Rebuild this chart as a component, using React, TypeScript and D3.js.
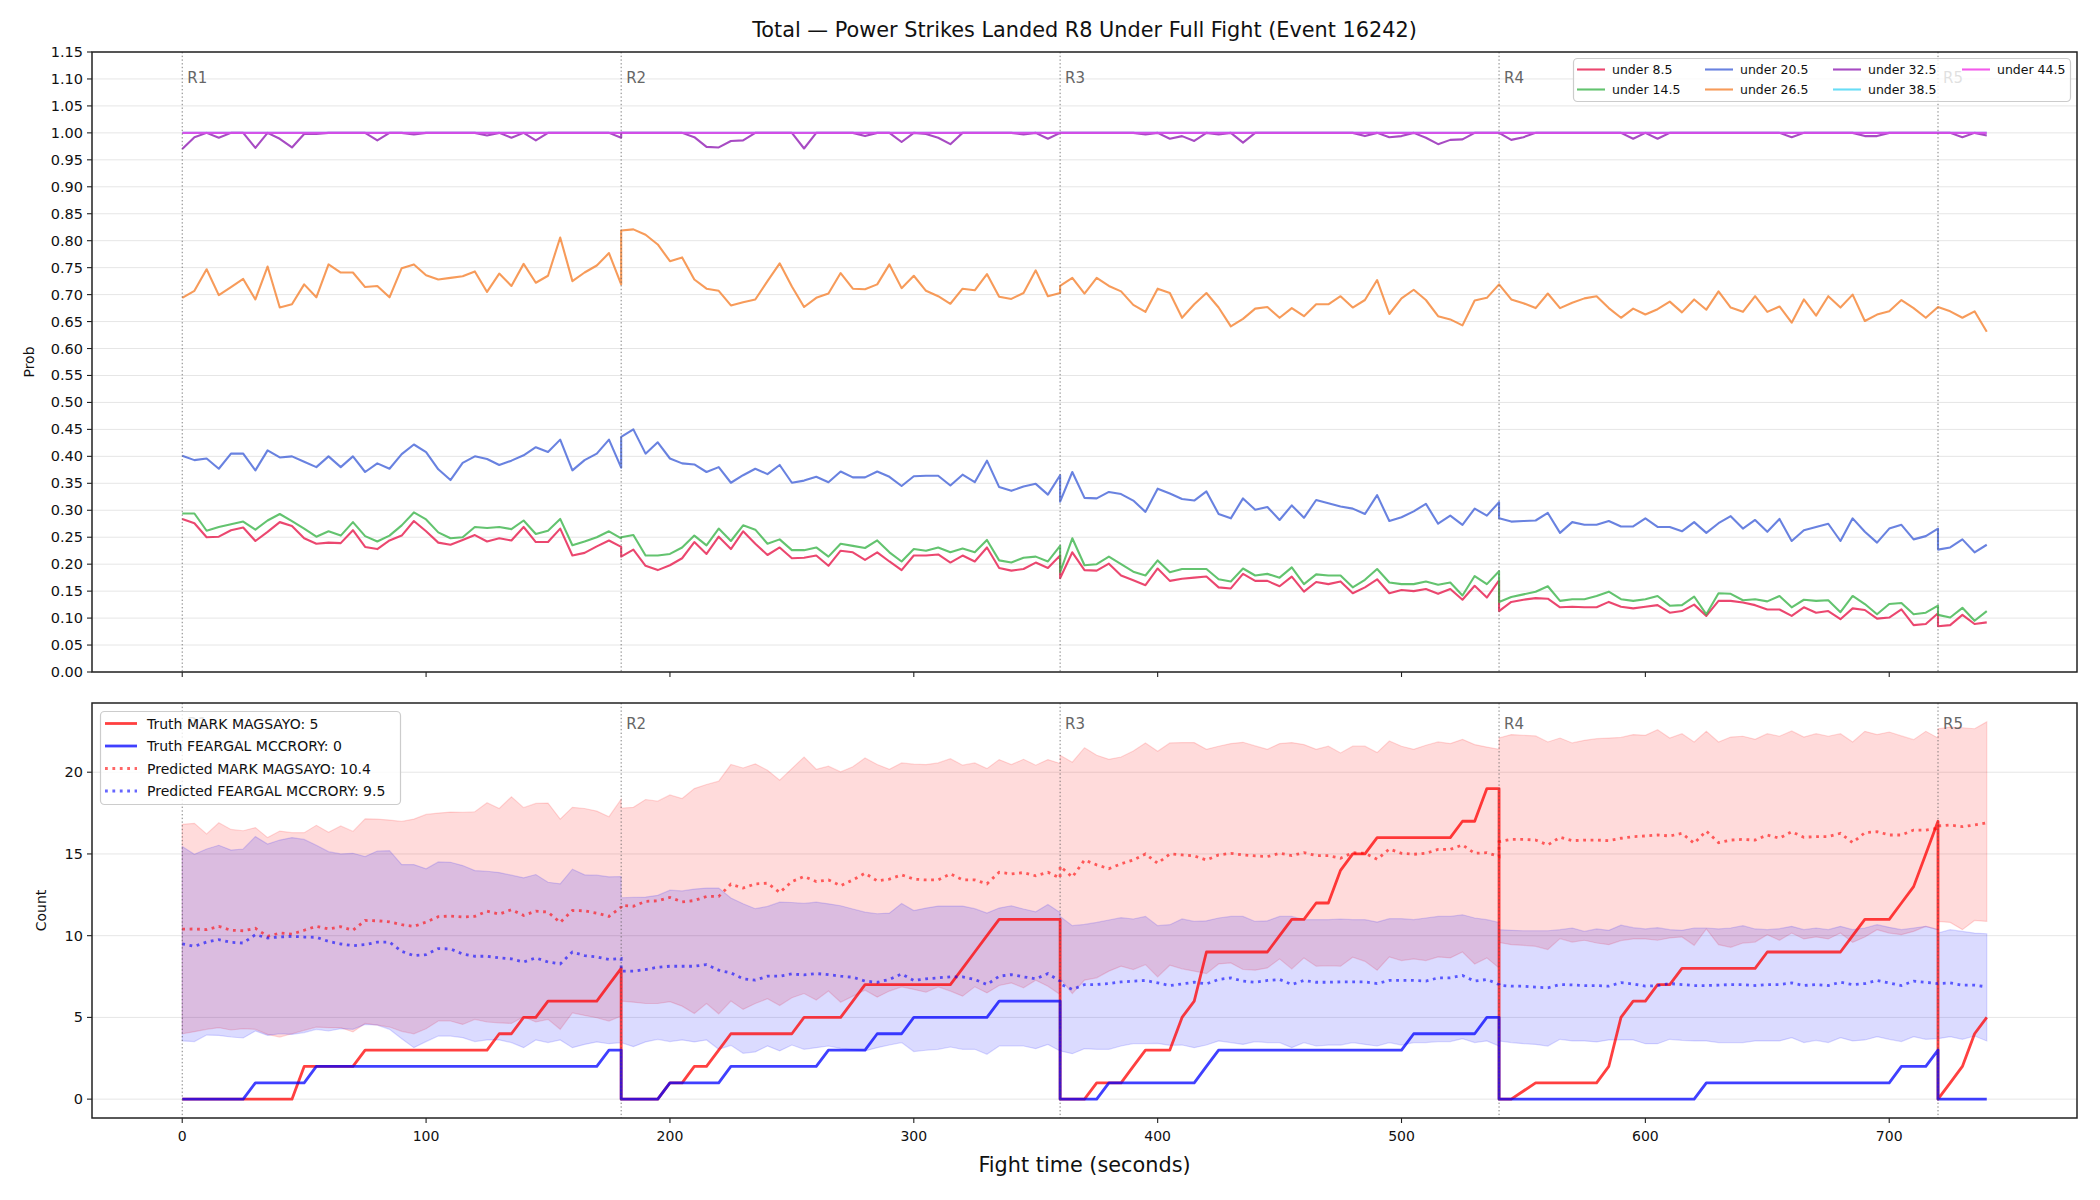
import React from 'react';
import * as d3 from 'd3';

type Pt = [number, number];
type BandPt = [number, number, number];

// sampling grid: each round restarts its clock, samples every 5 s
const ROUND_STARTS = [0, 180, 360, 540, 720];
const ROUND_LABELS = ['R1', 'R2', 'R3', 'R4', 'R5'];
const STEP_SECONDS = 5;

const PROB_TICKS = [0, 0.05, 0.1, 0.15, 0.2, 0.25, 0.3, 0.35, 0.4, 0.45, 0.5, 0.55, 0.6, 0.65, 0.7, 0.75, 0.8, 0.85, 0.9, 0.95, 1.0, 1.05, 1.1, 1.15];
const COUNT_TICKS = [0, 5, 10, 15, 20];
const TIME_TICKS = [0, 100, 200, 300, 400, 500, 600, 700];

const THRESHOLD_LABELS = ['under 8.5', 'under 14.5', 'under 20.5', 'under 26.5', 'under 32.5', 'under 38.5', 'under 44.5'];
const THRESHOLD_COLORS = ['#e6194b', '#3cb44b', '#4363d8', '#f58231', '#911eb4', '#42d4f4', '#f032e6'];

// P(total < line), one array per round
const UNDER_8_5 = [
  [0.284, 0.276, 0.250, 0.251, 0.263, 0.268, 0.243, 0.260, 0.278, 0.271, 0.248, 0.238, 0.240, 0.239, 0.263, 0.232, 0.228, 0.244, 0.253, 0.280, 0.261, 0.240, 0.236, 0.245, 0.254, 0.242, 0.248, 0.244, 0.269, 0.241, 0.241, 0.266, 0.216, 0.221, 0.233, 0.244, 0.232],
  [0.214, 0.227, 0.197, 0.189, 0.198, 0.211, 0.241, 0.219, 0.251, 0.228, 0.261, 0.238, 0.217, 0.231, 0.211, 0.212, 0.216, 0.197, 0.225, 0.222, 0.208, 0.222, 0.205, 0.189, 0.216, 0.216, 0.218, 0.203, 0.216, 0.205, 0.231, 0.193, 0.188, 0.191, 0.203, 0.193, 0.216],
  [0.174, 0.222, 0.189, 0.188, 0.201, 0.179, 0.170, 0.161, 0.192, 0.169, 0.173, 0.175, 0.177, 0.157, 0.155, 0.182, 0.169, 0.169, 0.159, 0.177, 0.149, 0.167, 0.163, 0.168, 0.146, 0.157, 0.172, 0.146, 0.152, 0.150, 0.154, 0.145, 0.154, 0.134, 0.160, 0.138, 0.170],
  [0.113, 0.130, 0.134, 0.137, 0.136, 0.120, 0.121, 0.120, 0.120, 0.130, 0.121, 0.118, 0.121, 0.124, 0.110, 0.113, 0.125, 0.104, 0.132, 0.132, 0.129, 0.124, 0.116, 0.116, 0.104, 0.120, 0.110, 0.113, 0.098, 0.118, 0.115, 0.099, 0.101, 0.116, 0.087, 0.089, 0.109],
  [0.085, 0.087, 0.106, 0.089, 0.092],
];
const UNDER_14_5 = [
  [0.294, 0.294, 0.262, 0.269, 0.274, 0.279, 0.264, 0.281, 0.293, 0.280, 0.266, 0.251, 0.261, 0.253, 0.278, 0.252, 0.242, 0.253, 0.272, 0.296, 0.283, 0.259, 0.248, 0.250, 0.269, 0.267, 0.269, 0.265, 0.281, 0.256, 0.262, 0.284, 0.235, 0.242, 0.250, 0.261, 0.248],
  [0.250, 0.254, 0.216, 0.216, 0.219, 0.231, 0.253, 0.235, 0.266, 0.243, 0.272, 0.264, 0.238, 0.246, 0.226, 0.226, 0.231, 0.214, 0.238, 0.234, 0.230, 0.244, 0.222, 0.205, 0.228, 0.225, 0.231, 0.222, 0.229, 0.222, 0.245, 0.207, 0.203, 0.212, 0.214, 0.205, 0.234],
  [0.185, 0.248, 0.198, 0.200, 0.214, 0.200, 0.186, 0.179, 0.207, 0.185, 0.191, 0.191, 0.191, 0.172, 0.168, 0.192, 0.179, 0.182, 0.175, 0.194, 0.163, 0.181, 0.179, 0.179, 0.157, 0.171, 0.191, 0.166, 0.163, 0.163, 0.168, 0.162, 0.166, 0.142, 0.178, 0.163, 0.187],
  [0.130, 0.139, 0.144, 0.149, 0.159, 0.132, 0.135, 0.135, 0.141, 0.149, 0.135, 0.132, 0.135, 0.141, 0.123, 0.124, 0.140, 0.107, 0.146, 0.145, 0.133, 0.135, 0.131, 0.141, 0.120, 0.134, 0.132, 0.133, 0.111, 0.141, 0.126, 0.107, 0.126, 0.128, 0.107, 0.110, 0.123],
  [0.106, 0.101, 0.119, 0.095, 0.113],
];
const UNDER_20_5 = [
  [0.401, 0.393, 0.396, 0.377, 0.405, 0.405, 0.374, 0.411, 0.398, 0.400, 0.390, 0.380, 0.400, 0.380, 0.400, 0.371, 0.387, 0.377, 0.404, 0.422, 0.408, 0.376, 0.356, 0.388, 0.400, 0.395, 0.384, 0.392, 0.402, 0.417, 0.408, 0.431, 0.374, 0.393, 0.405, 0.431, 0.379],
  [0.436, 0.450, 0.405, 0.426, 0.396, 0.387, 0.385, 0.371, 0.380, 0.351, 0.365, 0.377, 0.367, 0.384, 0.351, 0.355, 0.362, 0.352, 0.372, 0.361, 0.361, 0.372, 0.362, 0.345, 0.363, 0.364, 0.364, 0.346, 0.366, 0.352, 0.392, 0.343, 0.336, 0.344, 0.349, 0.329, 0.365],
  [0.316, 0.371, 0.323, 0.322, 0.334, 0.330, 0.318, 0.297, 0.340, 0.331, 0.321, 0.318, 0.335, 0.293, 0.285, 0.322, 0.301, 0.306, 0.282, 0.309, 0.286, 0.319, 0.313, 0.307, 0.303, 0.293, 0.328, 0.280, 0.287, 0.298, 0.312, 0.275, 0.290, 0.273, 0.303, 0.290, 0.315],
  [0.285, 0.279, 0.280, 0.281, 0.295, 0.258, 0.278, 0.273, 0.273, 0.280, 0.270, 0.270, 0.285, 0.269, 0.269, 0.261, 0.278, 0.258, 0.276, 0.289, 0.266, 0.282, 0.260, 0.284, 0.243, 0.263, 0.269, 0.275, 0.243, 0.285, 0.260, 0.240, 0.266, 0.273, 0.246, 0.252, 0.266],
  [0.227, 0.231, 0.246, 0.222, 0.236],
];
const UNDER_26_5 = [
  [0.694, 0.707, 0.747, 0.699, 0.714, 0.729, 0.691, 0.752, 0.676, 0.682, 0.719, 0.695, 0.756, 0.741, 0.741, 0.714, 0.716, 0.695, 0.749, 0.756, 0.736, 0.728, 0.731, 0.734, 0.743, 0.705, 0.739, 0.716, 0.757, 0.722, 0.735, 0.806, 0.725, 0.741, 0.754, 0.777, 0.719],
  [0.819, 0.821, 0.811, 0.793, 0.762, 0.769, 0.728, 0.711, 0.707, 0.680, 0.686, 0.691, 0.725, 0.758, 0.715, 0.677, 0.694, 0.702, 0.740, 0.711, 0.710, 0.719, 0.756, 0.712, 0.735, 0.707, 0.697, 0.683, 0.711, 0.708, 0.738, 0.696, 0.692, 0.703, 0.745, 0.697, 0.703],
  [0.716, 0.731, 0.702, 0.731, 0.716, 0.706, 0.681, 0.668, 0.711, 0.703, 0.657, 0.682, 0.703, 0.676, 0.641, 0.655, 0.674, 0.677, 0.657, 0.675, 0.660, 0.682, 0.682, 0.697, 0.676, 0.690, 0.727, 0.664, 0.693, 0.709, 0.690, 0.660, 0.654, 0.643, 0.689, 0.694, 0.719],
  [0.719, 0.691, 0.684, 0.675, 0.702, 0.675, 0.685, 0.693, 0.697, 0.675, 0.657, 0.674, 0.663, 0.673, 0.687, 0.667, 0.691, 0.672, 0.706, 0.676, 0.668, 0.697, 0.668, 0.678, 0.648, 0.691, 0.661, 0.697, 0.676, 0.700, 0.651, 0.663, 0.669, 0.690, 0.675, 0.657, 0.677],
  [0.677, 0.669, 0.657, 0.669, 0.631],
];
const UNDER_32_5 = [
  [0.970, 0.992, 1, 0.991, 1, 1, 0.972, 1, 0.989, 0.973, 0.998, 0.998, 1, 1, 1, 1, 0.986, 1, 1, 0.997, 1, 1, 1, 1, 1, 0.995, 1, 0.991, 1, 0.986, 1, 1, 1, 1, 1, 1, 0.991],
  [1, 1, 1, 1, 1, 1, 0.992, 0.974, 0.973, 0.985, 0.986, 1, 1, 1, 1, 0.971, 1, 1, 1, 1, 0.994, 1, 1, 0.983, 1, 0.998, 0.991, 0.979, 1, 1, 1, 1, 1, 0.997, 1, 0.989, 1],
  [1, 1, 1, 1, 1, 1, 1, 0.997, 1, 0.989, 0.994, 0.985, 1, 0.997, 1, 0.982, 1, 1, 1, 1, 1, 1, 1, 1, 1, 0.994, 1, 0.992, 0.994, 1, 0.991, 0.979, 0.987, 0.988, 1, 1, 1],
  [1, 0.987, 0.992, 1, 1, 1, 1, 1, 1, 1, 1, 0.989, 1, 0.989, 1, 1, 1, 1, 1, 1, 1, 1, 1, 1, 0.992, 1, 1, 1, 1, 1, 0.994, 0.994, 1, 1, 1, 1, 1],
  [1, 1, 0.992, 1, 0.995],
];
const UNDER_38_5 = [
  [1, 1, 1, 1, 1, 1, 1, 1, 1, 1, 1, 1, 1, 1, 1, 1, 1, 1, 1, 1, 1, 1, 1, 1, 1, 1, 1, 1, 1, 1, 1, 1, 1, 1, 1, 1, 1],
  [1, 1, 1, 1, 1, 1, 1, 1, 1, 1, 1, 1, 1, 1, 1, 1, 1, 1, 1, 1, 1, 1, 1, 1, 1, 1, 1, 1, 1, 1, 1, 1, 1, 1, 1, 1, 1],
  [1, 1, 1, 1, 1, 1, 1, 1, 1, 1, 1, 1, 1, 1, 1, 1, 1, 1, 1, 1, 1, 1, 1, 1, 1, 1, 1, 1, 1, 1, 1, 1, 1, 1, 1, 1, 1],
  [1, 1, 1, 1, 1, 1, 1, 1, 1, 1, 1, 1, 1, 1, 1, 1, 1, 1, 1, 1, 1, 1, 1, 1, 1, 1, 1, 1, 1, 1, 1, 1, 1, 1, 1, 1, 1],
  [1, 1, 1, 1, 1],
];
const UNDER_44_5 = [
  [1, 1, 1, 1, 1, 1, 1, 1, 1, 1, 1, 1, 1, 1, 1, 1, 1, 1, 1, 1, 1, 1, 1, 1, 1, 1, 1, 1, 1, 1, 1, 1, 1, 1, 1, 1, 1],
  [1, 1, 1, 1, 1, 1, 1, 1, 1, 1, 1, 1, 1, 1, 1, 1, 1, 1, 1, 1, 1, 1, 1, 1, 1, 1, 1, 1, 1, 1, 1, 1, 1, 1, 1, 1, 1],
  [1, 1, 1, 1, 1, 1, 1, 1, 1, 1, 1, 1, 1, 1, 1, 1, 1, 1, 1, 1, 1, 1, 1, 1, 1, 1, 1, 1, 1, 1, 1, 1, 1, 1, 1, 1, 1],
  [1, 1, 1, 1, 1, 1, 1, 1, 1, 1, 1, 1, 1, 1, 1, 1, 1, 1, 1, 1, 1, 1, 1, 1, 1, 1, 1, 1, 1, 1, 1, 1, 1, 1, 1, 1, 1],
  [1, 1, 1, 1, 1],
];
const THRESHOLD_SERIES = [UNDER_8_5, UNDER_14_5, UNDER_20_5, UNDER_26_5, UNDER_32_5, UNDER_38_5, UNDER_44_5];

// per-fighter counts: truth is cumulative within a round
const FIGHTERS = ['MARK MAGSAYO', 'FEARGAL MCCRORY'];

const TRUTH_MAGSAYO = [
  [0, 0, 0, 0, 0, 0, 0, 0, 0, 0, 2, 2, 2, 2, 2, 3, 3, 3, 3, 3, 3, 3, 3, 3, 3, 3, 4, 4, 5, 5, 6, 6, 6, 6, 6, 7, 8],
  [0, 0, 0, 0, 1, 1, 2, 2, 3, 4, 4, 4, 4, 4, 4, 5, 5, 5, 5, 6, 7, 7, 7, 7, 7, 7, 7, 7, 8, 9, 10, 11, 11, 11, 11, 11, 11],
  [0, 0, 0, 1, 1, 1, 2, 3, 3, 3, 5, 6, 9, 9, 9, 9, 9, 9, 10, 11, 11, 12, 12, 14, 15, 15, 16, 16, 16, 16, 16, 16, 16, 17, 17, 19, 19],
  [0, 0, 0.5, 1, 1, 1, 1, 1, 1, 2, 5, 6, 6, 7, 7, 8, 8, 8, 8, 8, 8, 8, 9, 9, 9, 9, 9, 9, 9, 10, 11, 11, 11, 12, 13, 15, 17],
  [0, 1, 2, 4, 5],
];
const TRUTH_FEARGAL = [
  [0, 0, 0, 0, 0, 0, 1, 1, 1, 1, 1, 2, 2, 2, 2, 2, 2, 2, 2, 2, 2, 2, 2, 2, 2, 2, 2, 2, 2, 2, 2, 2, 2, 2, 2, 3, 3],
  [0, 0, 0, 0, 1, 1, 1, 1, 1, 2, 2, 2, 2, 2, 2, 2, 2, 3, 3, 3, 3, 4, 4, 4, 5, 5, 5, 5, 5, 5, 5, 6, 6, 6, 6, 6, 6],
  [0, 0, 0, 0, 1, 1, 1, 1, 1, 1, 1, 1, 2, 3, 3, 3, 3, 3, 3, 3, 3, 3, 3, 3, 3, 3, 3, 3, 3, 4, 4, 4, 4, 4, 4, 5, 5],
  [0, 0, 0, 0, 0, 0, 0, 0, 0, 0, 0, 0, 0, 0, 0, 0, 0, 1, 1, 1, 1, 1, 1, 1, 1, 1, 1, 1, 1, 1, 1, 1, 1, 2, 2, 2, 3],
  [0, 0, 0, 0, 0],
];

const PRED_MAGSAYO = [
  [10.4, 10.41, 10.37, 10.57, 10.33, 10.30, 10.45, 9.96, 10.16, 10.10, 10.33, 10.57, 10.41, 10.55, 10.33, 10.93, 10.91, 10.85, 10.67, 10.57, 10.83, 11.16, 11.20, 11.14, 11.18, 11.50, 11.32, 11.59, 11.24, 11.50, 11.44, 10.81, 11.54, 11.52, 11.38, 11.18, 11.75],
  [11.85, 11.80, 12.10, 12.13, 12.34, 12.07, 12.15, 12.40, 12.40, 13.15, 12.91, 13.17, 13.21, 12.64, 13.31, 13.62, 13.31, 13.41, 13.05, 13.41, 13.82, 13.35, 13.46, 13.72, 13.46, 13.41, 13.41, 13.78, 13.41, 13.41, 13.17, 13.88, 13.78, 13.86, 13.66, 13.88, 13.52],
  [14.25, 13.58, 14.63, 14.33, 14.10, 14.40, 14.63, 15.00, 14.43, 15.00, 14.94, 14.88, 14.63, 14.94, 15.04, 14.94, 14.88, 14.84, 15.04, 14.90, 15.08, 14.90, 14.90, 14.74, 15.08, 15.04, 14.67, 15.30, 15.04, 14.98, 15.04, 15.28, 15.28, 15.55, 15.04, 15.08, 14.84],
  [15.75, 15.89, 15.89, 15.85, 15.55, 16.02, 15.81, 15.85, 15.85, 15.81, 15.96, 16.06, 16.10, 16.16, 16.10, 16.26, 15.65, 16.40, 15.69, 15.85, 15.89, 15.85, 16.16, 15.96, 16.36, 16.02, 16.06, 16.06, 16.26, 15.69, 16.30, 16.36, 16.16, 16.16, 16.46, 16.46, 16.57],
  [16.71, 16.77, 16.67, 16.77, 16.91],
];
const UPPER_MAGSAYO = [
  [16.81, 16.87, 16.22, 16.91, 16.50, 16.42, 16.61, 16.00, 16.40, 16.30, 16.30, 16.75, 16.32, 16.71, 16.38, 17.15, 17.13, 17.07, 16.99, 17.13, 17.42, 17.50, 17.56, 17.54, 17.58, 18.13, 17.78, 18.50, 17.83, 18.09, 18.11, 17.13, 17.85, 17.78, 17.62, 17.28, 18.35],
  [17.80, 17.85, 18.33, 18.23, 18.61, 18.39, 19.00, 19.25, 19.45, 20.47, 20.26, 20.51, 20.12, 19.51, 20.22, 20.93, 20.18, 20.37, 20.02, 20.33, 20.87, 20.47, 20.18, 20.57, 20.49, 20.47, 20.57, 20.83, 20.43, 20.57, 20.22, 20.77, 20.47, 20.79, 20.43, 20.77, 20.53],
  [21.04, 20.61, 21.50, 21.04, 20.79, 20.93, 21.30, 21.79, 21.28, 21.79, 21.81, 21.81, 21.40, 21.59, 21.75, 21.83, 21.61, 21.40, 21.75, 21.81, 21.69, 21.40, 21.59, 21.18, 21.59, 21.59, 21.20, 21.91, 21.59, 21.40, 21.65, 21.85, 21.75, 22.01, 21.69, 21.54, 21.40],
  [22.09, 22.30, 22.26, 22.22, 21.85, 22.09, 21.79, 21.95, 22.05, 22.09, 22.13, 22.30, 22.26, 22.60, 22.09, 22.36, 21.85, 22.50, 21.85, 22.15, 22.20, 22.01, 22.36, 22.20, 22.52, 22.15, 22.36, 22.20, 22.36, 21.85, 22.50, 22.30, 22.46, 22.22, 21.99, 22.50, 22.09],
  [22.66, 22.76, 22.72, 22.66, 23.08],
];
const LOWER_MAGSAYO = [
  [4.00, 4.13, 4.27, 4.37, 4.23, 4.31, 4.27, 3.96, 3.80, 4.00, 4.21, 4.41, 4.37, 4.37, 4.11, 4.63, 4.53, 4.41, 4.15, 4.00, 4.31, 4.78, 4.78, 4.57, 4.88, 4.72, 4.67, 4.63, 5.04, 4.72, 4.88, 4.27, 5.28, 5.12, 4.98, 4.78, 5.08],
  [6.00, 5.93, 5.85, 5.85, 5.96, 5.69, 5.24, 5.85, 5.22, 6.00, 5.49, 5.85, 6.14, 5.73, 6.20, 6.46, 6.06, 6.61, 5.93, 6.30, 6.67, 6.24, 6.61, 6.87, 6.71, 6.54, 6.87, 6.61, 6.30, 6.87, 6.50, 6.95, 7.11, 6.81, 7.28, 6.91, 6.40],
  [7.40, 6.46, 7.28, 7.42, 7.83, 8.13, 7.93, 8.23, 7.48, 8.19, 7.97, 7.83, 7.68, 8.27, 8.33, 7.93, 7.89, 8.03, 8.58, 7.97, 8.64, 8.13, 8.17, 8.13, 8.68, 8.43, 7.89, 8.70, 8.48, 8.58, 8.48, 8.70, 8.64, 9.00, 8.27, 8.64, 8.03],
  [9.59, 9.45, 9.41, 9.35, 9.15, 9.82, 9.61, 9.72, 9.55, 9.45, 9.70, 9.80, 9.80, 9.72, 9.86, 9.92, 9.41, 10.41, 9.45, 9.29, 9.55, 9.61, 10.06, 9.72, 10.16, 9.80, 9.92, 9.80, 10.16, 9.59, 9.92, 10.37, 10.16, 10.06, 10.26, 10.57, 10.37],
  [10.87, 10.81, 10.37, 10.93, 10.87],
];
const PRED_FEARGAL = [
  [9.5, 9.35, 9.61, 9.76, 9.59, 9.55, 10.06, 9.86, 9.92, 9.96, 9.92, 9.90, 9.65, 9.49, 9.39, 9.45, 9.61, 9.61, 9.04, 8.78, 8.84, 9.21, 9.19, 8.88, 8.74, 8.74, 8.64, 8.58, 8.39, 8.64, 8.39, 8.27, 9.00, 8.78, 8.70, 8.54, 8.60],
  [7.83, 7.83, 7.93, 8.07, 8.13, 8.13, 8.13, 8.23, 7.89, 7.72, 7.36, 7.28, 7.52, 7.52, 7.66, 7.60, 7.68, 7.62, 7.52, 7.46, 7.22, 7.15, 7.32, 7.66, 7.26, 7.36, 7.42, 7.48, 7.48, 7.32, 7.01, 7.52, 7.62, 7.48, 7.36, 7.68, 7.22],
  [7.05, 6.71, 7.01, 7.01, 7.07, 7.17, 7.22, 7.26, 7.11, 6.95, 7.05, 7.15, 7.05, 7.32, 7.42, 7.22, 7.15, 7.26, 7.32, 7.01, 7.26, 7.15, 7.15, 7.17, 7.17, 7.17, 7.07, 7.26, 7.26, 7.26, 7.22, 7.42, 7.42, 7.56, 7.22, 7.32, 7.01],
  [6.97, 6.91, 6.91, 6.85, 6.81, 7.01, 6.99, 6.95, 6.95, 6.91, 7.13, 7.04, 6.91, 6.95, 7.07, 7.01, 6.95, 6.95, 6.97, 7.01, 7.01, 6.95, 7.01, 7.01, 7.11, 6.95, 7.01, 6.95, 7.15, 7.01, 7.07, 7.26, 7.11, 6.95, 7.22, 7.15, 7.07],
  [7.07, 7.11, 6.97, 6.97, 6.87],
];
const UPPER_FEARGAL = [
  [15.45, 14.98, 15.30, 15.53, 15.24, 15.30, 16.06, 15.61, 15.85, 16.00, 15.89, 15.53, 15.14, 15.00, 15.04, 14.84, 15.18, 15.20, 14.35, 14.35, 14.09, 14.51, 14.49, 14.29, 13.98, 13.94, 13.86, 13.70, 13.54, 13.74, 13.27, 13.17, 14.07, 13.72, 13.70, 13.60, 13.62],
  [12.32, 12.34, 12.36, 12.47, 12.78, 12.74, 12.85, 12.91, 12.91, 12.30, 11.95, 11.65, 11.79, 12.05, 12.03, 11.97, 12.05, 11.95, 11.83, 11.63, 11.44, 11.34, 11.38, 11.97, 11.54, 11.69, 11.81, 11.81, 11.81, 11.65, 11.38, 11.69, 11.83, 11.63, 11.46, 11.91, 11.42],
  [11.18, 10.61, 10.69, 10.81, 10.96, 11.10, 11.02, 11.18, 10.61, 10.67, 11.02, 10.87, 10.91, 11.08, 11.18, 11.18, 10.87, 10.91, 11.18, 11.18, 10.98, 10.98, 10.98, 11.02, 10.98, 10.98, 10.83, 11.04, 11.04, 10.98, 11.08, 11.18, 11.18, 11.28, 11.08, 10.98, 10.81],
  [10.37, 10.33, 10.30, 10.30, 10.30, 10.37, 10.47, 10.26, 10.41, 10.33, 10.64, 10.49, 10.41, 10.49, 10.37, 10.33, 10.47, 10.47, 10.41, 10.47, 10.61, 10.41, 10.37, 10.43, 10.57, 10.37, 10.47, 10.37, 10.57, 10.37, 10.47, 10.67, 10.51, 10.37, 10.47, 10.57, 10.37],
  [10.16, 10.37, 10.26, 10.16, 10.12],
];
const LOWER_FEARGAL = [
  [3.56, 3.52, 3.92, 3.90, 3.80, 3.74, 4.17, 3.90, 4.00, 3.96, 4.07, 4.27, 4.17, 4.31, 4.27, 4.57, 4.53, 4.27, 3.70, 3.15, 3.52, 3.86, 3.86, 3.76, 3.52, 3.62, 3.62, 3.46, 3.15, 3.62, 3.46, 3.62, 3.15, 3.35, 3.50, 3.39, 3.46],
  [3.46, 3.21, 3.50, 3.66, 3.52, 3.62, 3.50, 3.62, 3.05, 3.29, 2.80, 2.89, 3.25, 2.95, 3.31, 3.05, 3.15, 3.25, 3.11, 3.01, 2.95, 3.15, 3.31, 3.46, 2.91, 2.99, 3.05, 3.19, 3.05, 3.05, 2.74, 3.25, 3.25, 3.25, 3.09, 3.35, 2.95],
  [2.95, 2.78, 3.09, 3.05, 3.05, 3.25, 3.40, 3.40, 3.41, 3.29, 3.31, 3.15, 3.31, 3.56, 3.46, 3.35, 3.52, 3.46, 3.46, 3.15, 3.46, 3.25, 3.31, 3.31, 3.46, 3.35, 3.25, 3.46, 3.31, 3.46, 3.46, 3.52, 3.52, 3.70, 3.46, 3.56, 3.25],
  [3.56, 3.46, 3.39, 3.35, 3.25, 3.66, 3.56, 3.56, 3.50, 3.62, 3.64, 3.62, 3.39, 3.39, 3.66, 3.60, 3.56, 3.56, 3.46, 3.46, 3.46, 3.56, 3.56, 3.56, 3.76, 3.46, 3.60, 3.46, 3.76, 3.56, 3.62, 3.82, 3.66, 3.52, 3.82, 3.66, 3.70],
  [3.70, 3.82, 3.66, 3.86, 3.56],
];

const FONT = '"DejaVu Sans", "Liberation Sans", sans-serif';
const AXIS_L = 92;
const AXIS_R = 2077;
const TOP_Y = [52, 672];
const BOT_Y = [703, 1118];

function toPoints(rounds: number[][]): Pt[] {
  return rounds.flatMap((vals, r) => vals.map((v, i) => [ROUND_STARTS[r] + i * STEP_SECONDS, v] as Pt));
}

function toBand(lower: number[][], upper: number[][]): BandPt[] {
  const lo = toPoints(lower);
  const hi = toPoints(upper);
  return lo.map((d, i) => [d[0], d[1], hi[i][1]] as BandPt);
}

export default function App() {
  const threshPts = THRESHOLD_SERIES.map(toPoints);
  const truthM = toPoints(TRUTH_MAGSAYO);
  const truthF = toPoints(TRUTH_FEARGAL);
  const predM = toPoints(PRED_MAGSAYO);
  const predF = toPoints(PRED_FEARGAL);
  const bandM = toBand(LOWER_MAGSAYO, UPPER_MAGSAYO);
  const bandF = toBand(LOWER_FEARGAL, UPPER_FEARGAL);

  // matplotlib-style 5% margins around the data extent
  const tExt = d3.extent(truthM, d => d[0]) as [number, number];
  const tPad = (tExt[1] - tExt[0]) * 0.05;
  const x = d3.scaleLinear().domain([tExt[0] - tPad, tExt[1] + tPad]).range([AXIS_L, AXIS_R]);

  const yP = d3.scaleLinear().domain([0, 1.15]).range([TOP_Y[1], TOP_Y[0]]);

  const cVals = [...bandM.flatMap(d => [d[1], d[2]]), ...bandF.flatMap(d => [d[1], d[2]]), ...truthM.map(d => d[1]), ...truthF.map(d => d[1])];
  const cMin = d3.min(cVals)!;
  const cMax = d3.max(cVals)!;
  const cPad = (cMax - cMin) * 0.05;
  const yC = d3.scaleLinear().domain([cMin - cPad, cMax + cPad]).range([BOT_Y[1], BOT_Y[0]]);

  const lineP = d3.line<Pt>().x(d => x(d[0])).y(d => yP(d[1]));
  const lineC = d3.line<Pt>().x(d => x(d[0])).y(d => yC(d[1]));
  const areaC = d3.area<BandPt>().x(d => x(d[0])).y0(d => yC(d[1])).y1(d => yC(d[2]));

  const fmt2 = d3.format('.2f');

  const roundLines = (y0: number, y1: number) =>
    ROUND_STARTS.map(t => (
      <line key={t} x1={x(t)} x2={x(t)} y1={y0} y2={y1} stroke="#555" strokeOpacity={0.75} strokeWidth={1} strokeDasharray="1.4 2.3" />
    ));

  const roundText = (yPos: number) =>
    ROUND_STARTS.map((t, i) => (
      <text key={t} x={x(t) + 5} y={yPos} dominantBaseline="central" fontSize={15} fill="#666" fontFamily={FONT}>
        {ROUND_LABELS[i]}
      </text>
    ));

  const xTicks = (yBase: number, labels: boolean) =>
    TIME_TICKS.map(t => (
      <g key={t}>
        <line x1={x(t)} x2={x(t)} y1={yBase} y2={yBase + 5} stroke="#222" strokeWidth={1.1} />
        {labels && (
          <text x={x(t)} y={yBase + 23} textAnchor="middle" fontSize={14} fill="#111" fontFamily={FONT}>{t}</text>
        )}
      </g>
    ));

  // top legend: 4 columns, filled column-wise
  const legTopX = [1577, 1705, 1833, 1962];
  const legTopY = [69.5, 89.5];

  const botLegend = [
    { label: `Truth ${FIGHTERS[0]}: ${TRUTH_MAGSAYO[4][4]}`, color: '#ff0000', dash: undefined, op: 0.75 },
    { label: `Truth ${FIGHTERS[1]}: ${TRUTH_FEARGAL[4][4]}`, color: '#0000ff', dash: undefined, op: 0.75 },
    { label: `Predicted ${FIGHTERS[0]}: ${PRED_MAGSAYO[0][0].toFixed(1)}`, color: '#ff0000', dash: '2.8 4.6', op: 0.6 },
    { label: `Predicted ${FIGHTERS[1]}: ${PRED_FEARGAL[0][0].toFixed(1)}`, color: '#0000ff', dash: '2.8 4.6', op: 0.6 },
  ];
  const legBotY = [723.5, 746, 768.5, 791];

  return (
    <div style={{ position: 'absolute', left: 0, top: 0 }}>
      <svg width={2100} height={1200} viewBox="0 0 2100 1200" style={{ display: 'block', background: '#fff' }}>
        <defs>
          <clipPath id="clipTop"><rect x={AXIS_L} y={TOP_Y[0]} width={AXIS_R - AXIS_L} height={TOP_Y[1] - TOP_Y[0]} /></clipPath>
          <clipPath id="clipBot"><rect x={AXIS_L} y={BOT_Y[0]} width={AXIS_R - AXIS_L} height={BOT_Y[1] - BOT_Y[0]} /></clipPath>
        </defs>

        <text x={(AXIS_L + AXIS_R) / 2} y={37} textAnchor="middle" fontSize={20.8} fill="#111" fontFamily={FONT}>
          Total — Power Strikes Landed R8 Under Full Fight (Event 16242)
        </text>

        {/* ---------- probability panel ---------- */}
        <g>
          {PROB_TICKS.map(v => (
            <line key={v} x1={AXIS_L} x2={AXIS_R} y1={yP(v)} y2={yP(v)} stroke="#e6e6e6" strokeWidth={1} />
          ))}
          <g clipPath="url(#clipTop)">
            {threshPts.map((pts, i) => (
              <path key={i} d={lineP(pts)!} fill="none" stroke={THRESHOLD_COLORS[i]} strokeOpacity={0.8} strokeWidth={2.1} strokeLinejoin="round" />
            ))}
            {roundLines(TOP_Y[0], TOP_Y[1])}
            {roundText(yP(1.102))}
          </g>
          <rect x={AXIS_L} y={TOP_Y[0]} width={AXIS_R - AXIS_L} height={TOP_Y[1] - TOP_Y[0]} fill="none" stroke="#222" strokeWidth={1.5} />
          {PROB_TICKS.map(v => (
            <g key={v}>
              <line x1={AXIS_L - 5} x2={AXIS_L} y1={yP(v)} y2={yP(v)} stroke="#222" strokeWidth={1.1} />
              <text x={AXIS_L - 9} y={yP(v)} textAnchor="end" dominantBaseline="central" fontSize={14.5} fill="#111" fontFamily={FONT}>{fmt2(v)}</text>
            </g>
          ))}
          {xTicks(TOP_Y[1], false)}
          <text transform={`translate(29,${(TOP_Y[0] + TOP_Y[1]) / 2}) rotate(-90)`} textAnchor="middle" dominantBaseline="central" fontSize={14} fill="#111" fontFamily={FONT}>Prob</text>

          <rect x={1573.5} y={58.5} width={497} height={43} rx={4} fill="#fff" fillOpacity={0.8} stroke="#cccccc" strokeWidth={1.2} />
          {THRESHOLD_LABELS.map((lab, i) => {
            const cx = legTopX[Math.floor(i / 2)];
            const cy = legTopY[i % 2];
            return (
              <g key={lab}>
                <line x1={cx} x2={cx + 28} y1={cy} y2={cy} stroke={THRESHOLD_COLORS[i]} strokeOpacity={0.8} strokeWidth={2.1} />
                <text x={cx + 35} y={cy} dominantBaseline="central" fontSize={12.5} fill="#111" fontFamily={FONT}>{lab}</text>
              </g>
            );
          })}
        </g>

        {/* ---------- count panel ---------- */}
        <g>
          {COUNT_TICKS.map(v => (
            <line key={v} x1={AXIS_L} x2={AXIS_R} y1={yC(v)} y2={yC(v)} stroke="#e6e6e6" strokeWidth={1} />
          ))}
          <g clipPath="url(#clipBot)">
            <path d={areaC(bandM)!} fill="#ff0000" fillOpacity={0.14} stroke="#ff0000" strokeOpacity={0.14} strokeWidth={1.2} />
            <path d={areaC(bandF)!} fill="#0000ff" fillOpacity={0.14} stroke="#0000ff" strokeOpacity={0.14} strokeWidth={1.2} />
            <path d={lineC(truthM)!} fill="none" stroke="#ff0000" strokeOpacity={0.75} strokeWidth={2.8} strokeLinejoin="round" />
            <path d={lineC(truthF)!} fill="none" stroke="#0000ff" strokeOpacity={0.75} strokeWidth={2.8} strokeLinejoin="round" />
            <path d={lineC(predM)!} fill="none" stroke="#ff0000" strokeOpacity={0.6} strokeWidth={2.8} strokeDasharray="2.8 4.6" />
            <path d={lineC(predF)!} fill="none" stroke="#0000ff" strokeOpacity={0.6} strokeWidth={2.8} strokeDasharray="2.8 4.6" />
            {roundLines(BOT_Y[0], BOT_Y[1])}
            {roundText(yC(22.95))}
          </g>
          <rect x={AXIS_L} y={BOT_Y[0]} width={AXIS_R - AXIS_L} height={BOT_Y[1] - BOT_Y[0]} fill="none" stroke="#222" strokeWidth={1.5} />
          {COUNT_TICKS.map(v => (
            <g key={v}>
              <line x1={AXIS_L - 5} x2={AXIS_L} y1={yC(v)} y2={yC(v)} stroke="#222" strokeWidth={1.1} />
              <text x={AXIS_L - 9} y={yC(v)} textAnchor="end" dominantBaseline="central" fontSize={14.5} fill="#111" fontFamily={FONT}>{v}</text>
            </g>
          ))}
          {xTicks(BOT_Y[1], true)}
          <text transform={`translate(41,${(BOT_Y[0] + BOT_Y[1]) / 2}) rotate(-90)`} textAnchor="middle" dominantBaseline="central" fontSize={14} fill="#111" fontFamily={FONT}>Count</text>
          <text x={(AXIS_L + AXIS_R) / 2} y={1172} textAnchor="middle" fontSize={20.8} fill="#111" fontFamily={FONT}>Fight time (seconds)</text>

          <rect x={100.5} y={711.5} width={300} height={93} rx={4} fill="#fff" fillOpacity={0.8} stroke="#cccccc" strokeWidth={1.2} />
          {botLegend.map((d, i) => (
            <g key={d.label}>
              <line x1={105} x2={137} y1={legBotY[i]} y2={legBotY[i]} stroke={d.color} strokeOpacity={d.op} strokeWidth={2.8} strokeDasharray={d.dash} />
              <text x={147} y={legBotY[i]} dominantBaseline="central" fontSize={14} fill="#111" fontFamily={FONT}>{d.label}</text>
            </g>
          ))}
        </g>
      </svg>
    </div>
  );
}
